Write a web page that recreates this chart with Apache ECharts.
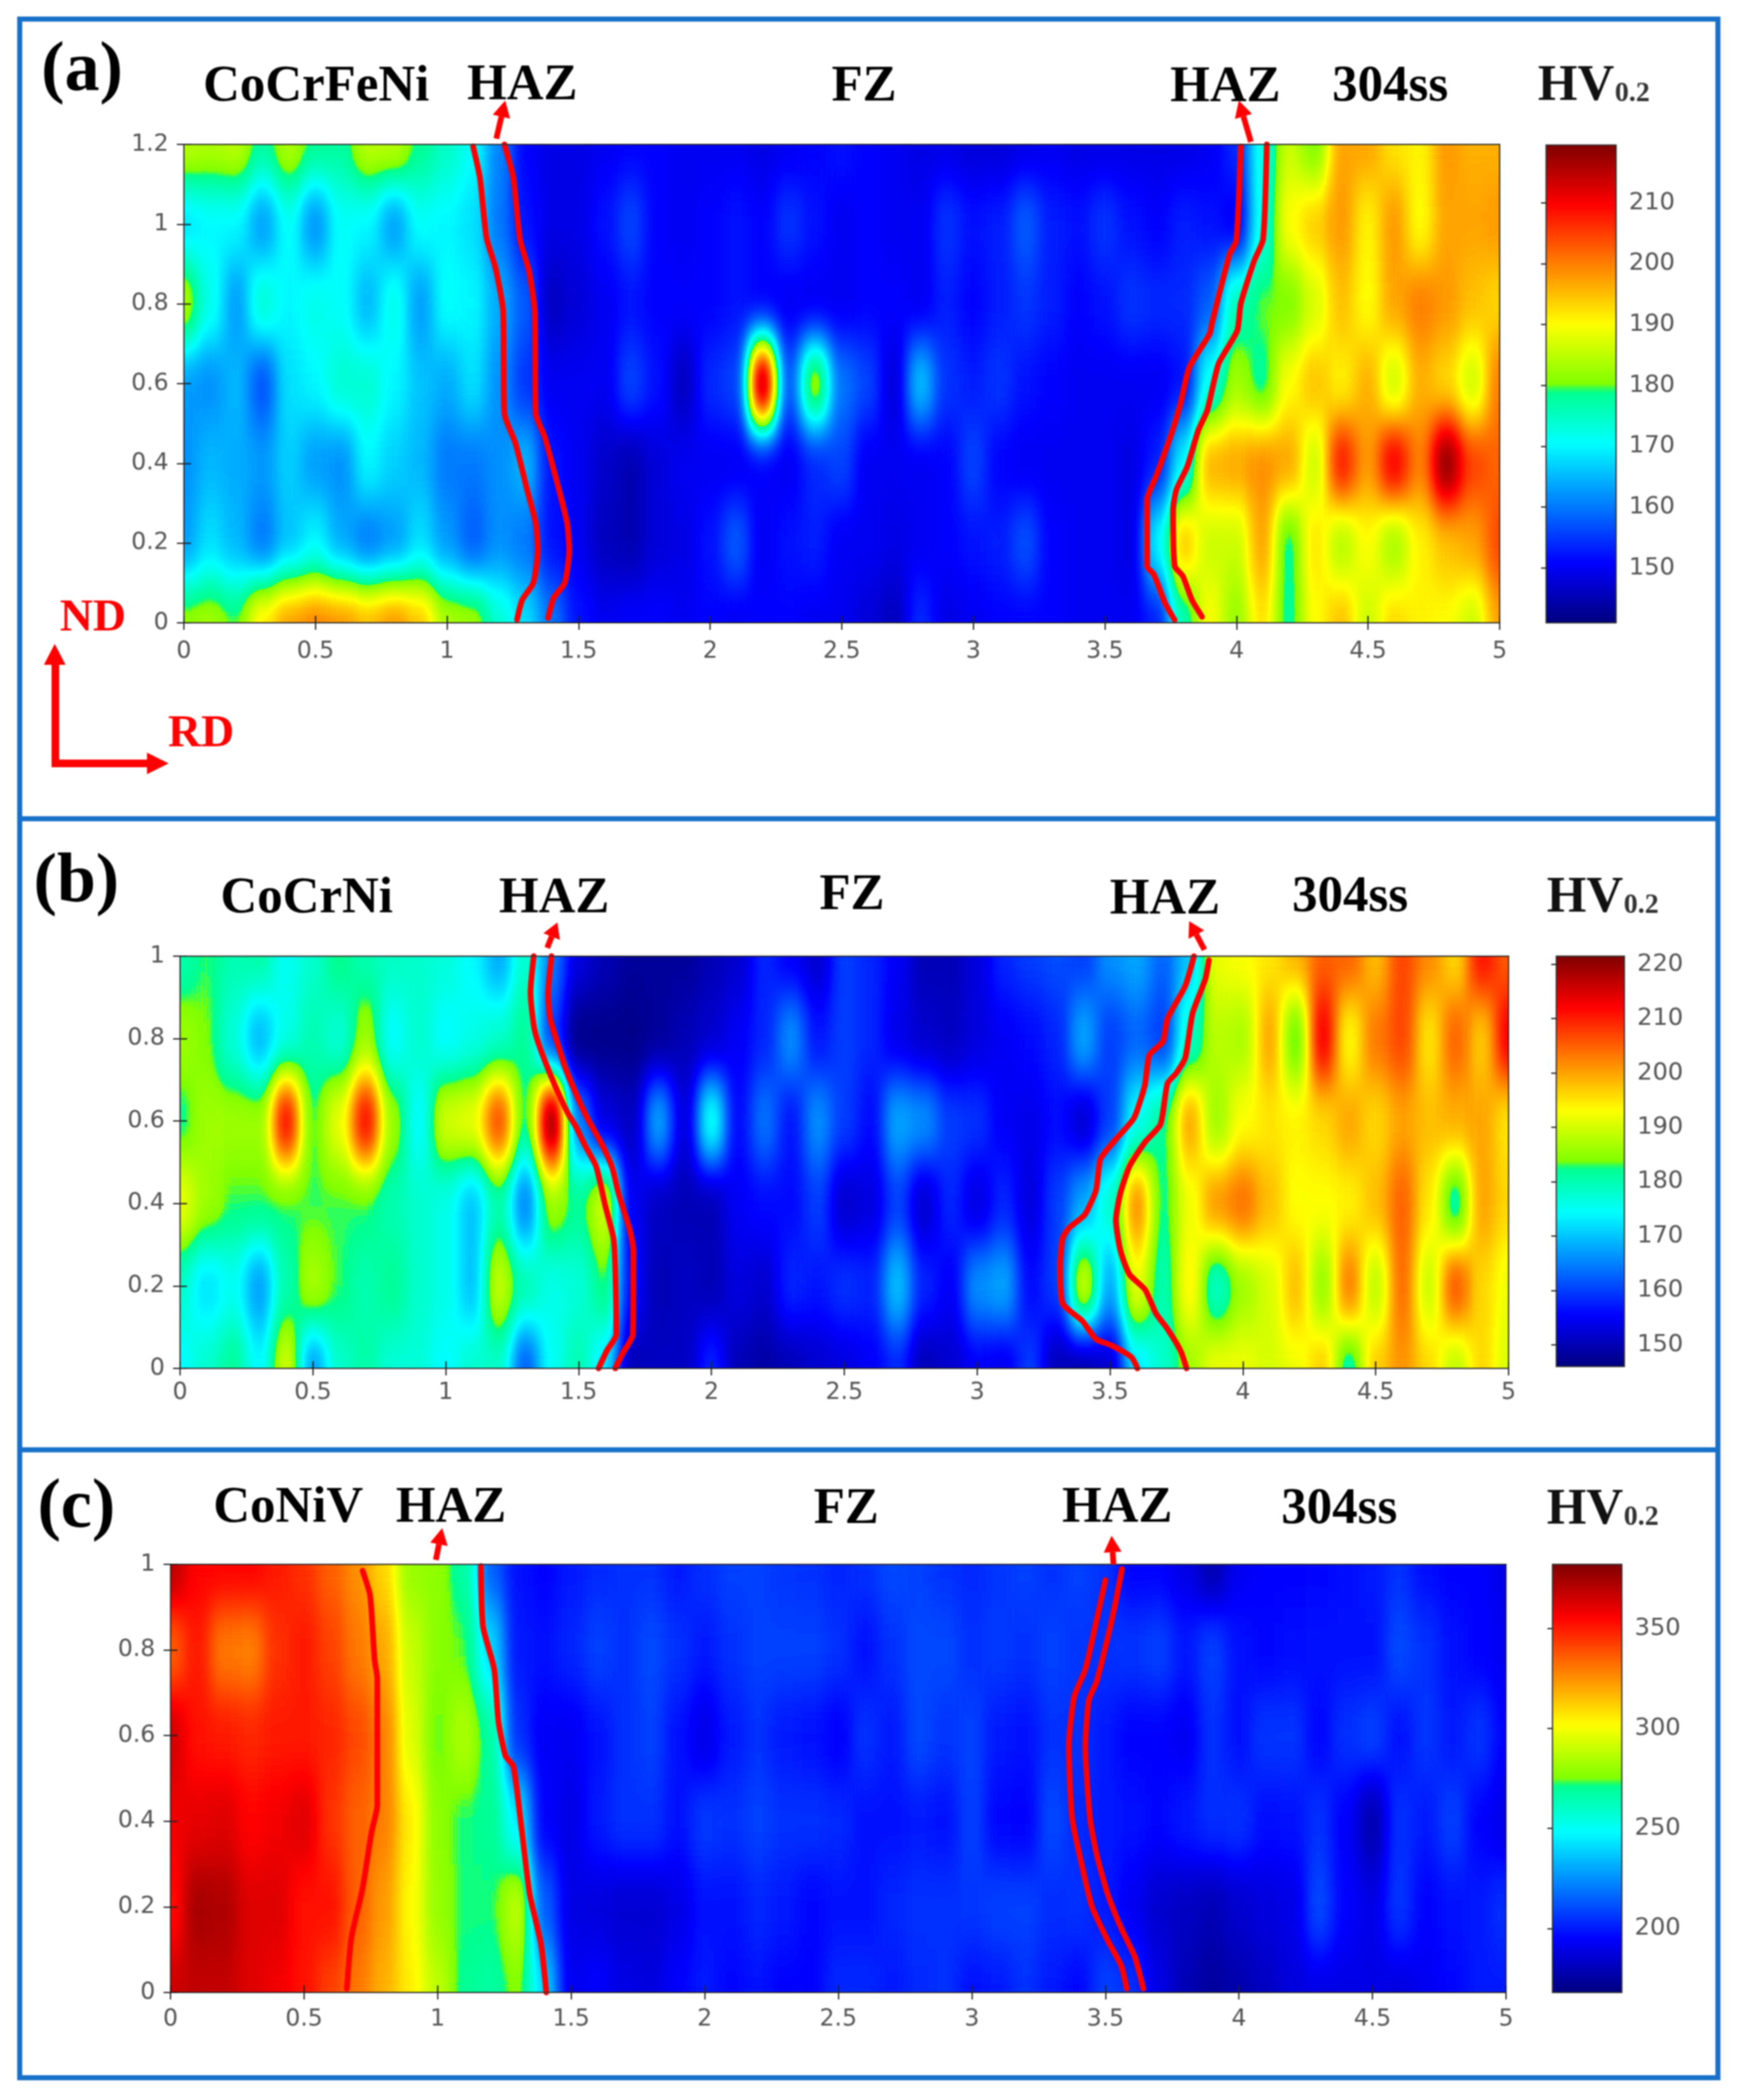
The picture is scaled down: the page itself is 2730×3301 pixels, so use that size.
<!DOCTYPE html>
<html>
<head>
<meta charset="utf-8">
<script src="https://cdn.jsdelivr.net/npm/echarts@6/dist/echarts.min.js"></script>
<style>
html, body { margin: 0; padding: 0; background: #fff; }
#page { position: relative; width: 2730px; height: 3301px; overflow: hidden; }
#main { position: absolute; left: 0; top: 0; width: 2730px; height: 3301px; z-index: 5; filter: blur(0.9px); }
.clip { position: absolute; overflow: hidden; z-index: 1; }
.heat { position: absolute; filter: url(#jetBlur); }
</style>
</head>
<body>
<!-- blur the gray value map, then colour it, so the blending happens on hardness and not on rgb -->
<svg width="0" height="0" style="position:absolute">
  <filter id="jetBlur" color-interpolation-filters="sRGB">
    <feGaussianBlur stdDeviation="11 36"/>
    <feComponentTransfer>
      <feFuncR id="funcR" type="table"/>
      <feFuncG id="funcG" type="table"/>
      <feFuncB id="funcB" type="table"/>
      <feFuncA type="linear" slope="30"/>
    </feComponentTransfer>
  </filter>
</svg>
<div id="page"><div id="main"></div></div>
<script>
var xValues = [];
for (var k = 0; k <= 50; k++) xValues.push((k / 10).toFixed(1));
var yValuesA = ['0', '0.2', '0.4', '0.6', '0.8', '1.0', '1.2'];
var yValuesBC = ['0', '0.2', '0.4', '0.6', '0.8', '1.0'];

// hardness, one row per y, x = 0..5 in steps of 0.1
var hvA_120 = [185,184,185,178,184,179,178,185,185,179,175, 171,161,151,149,149,150,151,151,150,150, 150,149,150,151,152,151,150,149,149,148, 148,149,150,149,149,149,149,149,150,154, 172,186,180,197,197,192,191,198,196,196];
var hvA_100 = [168,170,170,163,171,162,171,170,163,171,170, 168,160,152,149,149,152,156,151,150,151, 152,151,155,152,150,151,150,150,155,152, 153,158,153,152,155,152,151,153,152,150, 172,190,194,198,191,198,190,197,197,198];
var hvA_080 = [184,172,163,174,170,172,171,165,172,163,171, 170,164,158,146,148,150,152,151,151,151, 152,151,150,150,150,151,151,150,153,151, 153,155,153,151,152,155,154,154,158,176, 180,180,187,195,190,197,200,198,195,193];
var hvA_060 = [163,162,165,157,168,170,174,174,170,166,164, 168,162,155,150,150,150,156,152,146,154, 156,218,158,184,160,156,148,166,155,153, 155,152,151,150,150,150,150,152,172,183, 178,190,195,191,196,186,196,193,186,200];
var hvA_040 = [162,165,164,163,167,163,162,170,167,165,160, 160,162,165,152,150,147,145,148,150,150, 150,151,150,154,156,150,150,150,151,156, 151,150,150,150,150,149,153,170,196,197, 199,197,186,208,198,211,200,219,205,202];
var hvA_020 = [163,168,165,160,166,170,164,160,163,168,163, 158,162,160,152,150,146,145,148,149,152, 158,150,152,153,150,150,149,150,151,152, 153,157,151,150,150,149,170,195,186,186, 197,178,192,184,190,183,191,195,197,204];
var hvA_000 = [182,183,180,192,198,200,199,196,199,195,184, 183,174,168,160,152,150,151,151,150,151, 150,151,151,150,150,148,146,154,149,150, 151,151,151,150,150,150,153,176,190,182, 192,178,190,195,186,193,191,190,186,197];

var hvB_100 = [180,183,180,181,175,178,183,180,179,178,177, 174,168,178,165,153,150,148,148,148,150, 152,158,155,152,160,158,155,150,150,153, 158,160,161,160,166,168,163,170,192,193, 195,199,205,205,198,207,202,196,211,205];
var hvB_080 = [186,184,177,169,176,180,177,186,174,178,174, 176,178,182,160,147,147,147,148,150,152, 155,158,166,157,160,158,154,152,151,153, 155,156,158,168,160,163,160,178,188,187, 200,182,213,193,203,207,195,205,197,213];
var hvB_060 = [182,186,186,186,212,183,192,212,186,174,190, 192,207,182,221,165,153,151,168,153,176, 156,164,157,166,160,156,168,166,160,159, 155,154,156,152,160,175,182,200,186,193, 195,194,196,200,196,200,198,199,200,195];
var hvB_040 = [192,186,183,183,183,183,183,183,180,178,176, 170,180,165,186,182,190,155,151,150,150, 155,156,156,160,152,153,160,152,158,153, 158,153,160,168,178,202,182,192,201,204, 198,193,193,194,198,205,195,180,200,196];
var hvB_020 = [178,172,175,167,180,187,183,180,182,178,176, 170,189,180,176,177,183,156,150,151,150, 153,152,158,157,159,158,170,158,155,166, 168,156,160,190,168,192,180,194,178,186, 190,198,185,203,188,204,189,206,196,192];
var hvB_000 = [174,178,182,174,190,167,178,181,177,177,174, 178,178,162,175,180,172,150,151,151,158, 150,149,150,152,153,155,158,150,152,155, 154,160,150,149,152,172,178,186,192,192, 190,192,197,180,197,201,196,188,196,190];

var hvC_100 = [370,355,355,355,350,345,335,325,310,280,278, 268,215,198,195,200,203,205,205,200,205, 208,208,206,205,202,205,210,208,205,203, 206,208,205,208,205,195,195,190,178,192, 195,195,196,197,200,205,197,195,195,190];
var hvC_080 = [335,350,330,328,345,350,342,330,320,290,277, 274,240,200,198,202,208,205,210,205,200, 205,208,208,208,205,198,205,210,210,205, 207,205,208,206,205,206,208,200,208,198, 196,197,198,198,198,210,205,198,195,192];
var hvC_060 = [365,352,350,348,350,350,348,340,328,295,274, 285,268,205,193,192,198,205,208,198,190, 200,205,200,198,194,205,200,210,206,208, 200,198,205,205,200,195,195,192,205,198, 206,206,196,205,208,198,206,200,206,195];
var hvC_040 = [358,360,362,355,358,362,345,335,328,305,278, 272,270,245,195,190,200,205,205,198,207, 205,208,205,205,203,198,198,200,198,208, 196,195,210,203,200,198,196,200,204,205, 197,198,205,194,178,205,200,208,195,190];
var hvC_020 = [352,374,372,362,362,352,352,335,322,302,280, 272,272,288,215,190,188,186,186,190,198, 198,202,200,196,198,198,202,205,205,206, 208,208,204,205,200,192,185,182,180,185, 188,190,210,195,190,206,195,198,200,205];
var hvC_000 = [366,368,368,362,358,352,342,330,318,305,288, 270,268,276,240,192,195,190,188,195,200, 196,198,195,195,203,203,200,203,205,198, 200,205,200,196,208,205,190,180,175,178, 182,188,190,190,190,188,192,196,200,200];

// HAZ boundaries drawn on the maps, [x, y]
var hazA1 = [[1.099,1.195],[1.125,1.116],[1.150,.966],[1.184,.891],[1.213,.783],[1.218,.525],[1.260,.45],[1.303,.337],[1.337,.25],[1.345,.183],[1.328,.10],[1.286,.058],[1.266,.008]];
var hazA2 = [[1.218,1.2],[1.252,1.116],[1.277,.962],[1.311,.883],[1.333,.783],[1.337,.525],[1.371,.466],[1.422,.342],[1.456,.25],[1.464,.183],[1.447,.10],[1.405,.062],[1.384,.012]];
var hazA3 = [[4.016,1.195],[3.999,.958],[3.974,.925],[3.906,.75],[3.898,.725],[3.821,.641],[3.787,.55],[3.753,.475],[3.694,.367],[3.660,.308],[3.660,.142],[3.686,.121],[3.728,.05],[3.765,.007]];
var hazA4 = [[4.115,1.2],[4.101,.962],[4.067,.908],[4.016,.80],[4.003,.733],[3.932,.65],[3.889,.533],[3.855,.483],[3.813,.392],[3.771,.333],[3.759,.283],[3.765,.142],[3.796,.117],[3.830,.058],[3.869,.015]];
var hazB1 = [[1.331,1.0],[1.319,.913],[1.331,.833],[1.343,.80],[1.373,.746],[1.415,.68],[1.457,.622],[1.491,.585],[1.524,.541],[1.566,.49],[1.600,.395],[1.633,.308],[1.642,.082],[1.608,.045],[1.575,0]];
var hazB2 = [[1.398,1],[1.385,.906],[1.393,.848],[1.415,.80],[1.449,.731],[1.491,.665],[1.533,.607],[1.583,.549],[1.625,.49],[1.650,.425],[1.692,.337],[1.706,.286],[1.704,.082],[1.667,.038],[1.638,0]];
var hazB3 = [[3.816,1],[3.783,.928],[3.716,.848],[3.699,.793],[3.648,.76],[3.631,.687],[3.590,.607],[3.522,.556],[3.464,.508],[3.447,.432],[3.405,.373],[3.346,.341],[3.321,.315],[3.312,.25],[3.321,.158],[3.396,.115],[3.447,.071],[3.505,.056],[3.581,.027],[3.603,0]];
var hazB4 = [[3.872,.99],[3.858,.943],[3.811,.862],[3.783,.753],[3.749,.716],[3.716,.691],[3.690,.592],[3.632,.549],[3.573,.49],[3.539,.425],[3.522,.359],[3.539,.286],[3.573,.228],[3.632,.191],[3.673,.133],[3.716,.096],[3.766,.042],[3.788,0]];
var hazC1 = [[.719,.985],[.747,.927],[.764,.776],[.774,.733],[.774,.438],[.752,.373],[.719,.243],[.677,.128],[.660,.009]];
var hazC2 = [[1.162,.996],[1.170,.855],[1.212,.755],[1.228,.632],[1.254,.553],[1.284,.528],[1.312,.395],[1.345,.229],[1.387,.114],[1.407,0]];
var hazC3 = [[3.50,.963],[3.467,.87],[3.425,.755],[3.383,.69],[3.363,.575],[3.375,.409],[3.408,.308],[3.45,.2],[3.509,.121],[3.559,.063],[3.580,.009]];
var hazC4 = [[3.562,.989],[3.529,.884],[3.467,.726],[3.438,.683],[3.425,.575],[3.442,.409],[3.467,.323],[3.509,.229],[3.559,.15],[3.609,.085],[3.642,.009]];

var ticksA = [150, 160, 170, 180, 190, 200, 210];
var ticksB = [150, 160, 170, 180, 190, 200, 210, 220];
var ticksC = [200, 250, 300, 350];

var red = '#ff0000';
var blue = '#1871c8';
var serif = '"Liberation Serif", serif';

// jet as in the figure: the green is saturated, with a jump at the middle of the range
function jetAt(t) {
    var r = t < 0.5 ? 0 : t < 0.625 ? 0.5 + (t - 0.5) * 4 : t < 0.875 ? 1 : 1 - (t - 0.875) * 4;
    var g = t < 0.125 ? 0 : t < 0.375 ? (t - 0.125) * 4 : t < 0.625 ? 1 : t < 0.875 ? 1 - (t - 0.625) * 4 : 0;
    var b = t < 0.125 ? 0.5 + t * 4 : t < 0.375 ? 1 : t < 0.5 ? 1 - (t - 0.375) * 4 : 0;
    return [r, g, b];
}
var jet = [], tableR = [], tableG = [], tableB = [];
for (var s = 0; s <= 64; s++) {
    var c = jetAt(s / 64);
    tableR.push(c[0].toFixed(3));
    tableG.push(c[1].toFixed(3));
    tableB.push(c[2].toFixed(3));
    jet.push('rgb(' + Math.round(c[0] * 255) + ',' + Math.round(c[1] * 255) + ',' + Math.round(c[2] * 255) + ')');
}
document.getElementById('funcR').setAttribute('tableValues', tableR.join(' '));
document.getElementById('funcG').setAttribute('tableValues', tableG.join(' '));
document.getElementById('funcB').setAttribute('tableValues', tableB.join(' '));

var panels = [
    { rows: [hvA_000, hvA_020, hvA_040, hvA_060, hvA_080, hvA_100, hvA_120], ys: yValuesA, yMax: 1.2,
      min: 141, max: 219.5, ticks: ticksA, haz: [hazA1, hazA2, hazA3, hazA4],
      left: 289, top: 227, width: 2068, height: 752, labelGap: 27,
      barLeft: 2430, barTop: 228, barWidth: 110, barHeight: 751 },
    { rows: [hvB_000, hvB_020, hvB_040, hvB_060, hvB_080, hvB_100], ys: yValuesBC, yMax: 1,
      min: 146, max: 221.5, ticks: ticksB, haz: [hazB1, hazB2, hazB3, hazB4],
      left: 283, top: 1503, width: 2088, height: 648, labelGap: 20,
      barLeft: 2446, barTop: 1503, barWidth: 107, barHeight: 645 },
    { rows: [hvC_000, hvC_020, hvC_040, hvC_060, hvC_080, hvC_100], ys: yValuesBC, yMax: 1,
      min: 168, max: 382, ticks: ticksC, haz: [hazC1, hazC2, hazC3, hazC4],
      left: 268, top: 2459, width: 2099, height: 673, labelGap: 24,
      barLeft: 2440, barTop: 2459, barWidth: 109, barHeight: 673 }
];

// heat layers sit under the main chart, cell centres at 0 and 5 land on the frame
panels.forEach(function (p) {
    var cellW = p.width / (xValues.length - 1);
    var cellH = p.height / (p.ys.length - 1);
    var clip = document.createElement('div');
    clip.className = 'clip';
    clip.style.cssText = 'left:' + p.left + 'px;top:' + p.top + 'px;width:' + p.width + 'px;height:' + p.height + 'px';
    var el = document.createElement('div');
    el.className = 'heat';
    el.style.left = (-cellW / 2) + 'px';
    el.style.top = (-cellH / 2) + 'px';
    el.style.width = (p.width + cellW) + 'px';
    el.style.height = (p.height + cellH) + 'px';
    clip.appendChild(el);
    document.getElementById('page').appendChild(clip);

    var data = [];
    p.rows.forEach(function (row, j) {
        row.forEach(function (v, i) {
            data.push([i, j, v]);
        });
    });
    var heat = echarts.init(el, null, { renderer: 'canvas' });
    heat.setOption({
        animation: false,
        grid: { left: 0, right: 0, top: 0, bottom: 0 },
        xAxis: { type: 'category', data: xValues, show: false },
        yAxis: { type: 'category', data: p.ys, show: false },
        visualMap: { show: false, min: p.min, max: p.max, seriesIndex: 0, inRange: { color: ['#000000', '#ffffff'] } },
        series: [{ type: 'heatmap', data: data, progressive: 0, silent: true, itemStyle: { borderWidth: 0 } }]
    });
});

var grids = [], xAxes = [], yAxes = [], series = [], maps = [];
var tickStyle = { color: '#222', width: 2 };
var labelFont = { color: '#555', fontFamily: 'DejaVu Sans', fontSize: 37 };

panels.forEach(function (p) {
    var g = grids.length;
    grids.push({ left: p.left, top: p.top, width: p.width, height: p.height, show: true, z: 10,
        borderColor: '#333', borderWidth: 2, backgroundColor: 'transparent' });
    var xi = xAxes.length, yi = yAxes.length;
    ['bottom', 'top'].forEach(function (pos) {
        xAxes.push({ type: 'value', gridIndex: g, position: pos, min: 0, max: 5, interval: 0.5, z: 10,
            splitLine: { show: false }, axisLine: { show: false },
            axisTick: { show: true, inside: true, length: 11, lineStyle: tickStyle },
            axisLabel: Object.assign({ show: pos === 'bottom', margin: p.labelGap, hideOverlap: false, showMinLabel: true, showMaxLabel: true }, labelFont) });
    });
    ['left', 'right'].forEach(function (pos) {
        yAxes.push({ type: 'value', gridIndex: g, position: pos, min: 0, max: p.yMax, interval: 0.2, z: 10,
            splitLine: { show: false }, axisLine: { show: false },
            axisTick: { show: true, inside: true, length: 11, lineStyle: tickStyle },
            axisLabel: Object.assign({ show: pos === 'left', margin: 24, padding: [10, 0, 0, 0], hideOverlap: false, showMinLabel: true, showMaxLabel: true }, labelFont) });
    });
    p.haz.forEach(function (line) {
        series.push({ type: 'line', xAxisIndex: xi, yAxisIndex: yi, data: line, symbol: 'none', silent: true, clip: false,
            lineStyle: { color: red, width: 9, cap: 'round', join: 'round' }, smooth: 0.2 });
    });

    // colour bar, the frame and ticks come from a small grid on top of it
    var bar = grids.length;
    grids.push({ left: p.barLeft, top: p.barTop, width: p.barWidth, height: p.barHeight, show: true, z: 10,
        borderColor: '#333', borderWidth: 2, backgroundColor: 'transparent' });
    xAxes.push({ type: 'value', gridIndex: bar, show: false, min: 0, max: 1 });
    yAxes.push({ type: 'value', gridIndex: bar, position: 'right', min: p.min, max: p.max, z: 10,
        splitLine: { show: false }, axisLine: { show: false },
        axisTick: { show: true, inside: true, length: 8, lineStyle: tickStyle, customValues: p.ticks },
        axisLabel: Object.assign({ margin: 20, customValues: p.ticks }, labelFont, { fontSize: 38 }) });
    maps.push({ type: 'continuous', show: true, min: p.min, max: p.max, seriesIndex: 99, calculable: false, hoverLink: false,
        left: p.barLeft, top: p.barTop, itemWidth: p.barWidth, itemHeight: p.barHeight, padding: 0, text: null,
        inRange: { color: jet } });
});

function label(str, x, y, size, color) {
    return { type: 'text', z: 20, silent: true, style: { text: str, x: x, y: y, align: 'center', verticalAlign: 'middle',
        font: 'bold ' + size + 'px ' + serif, fill: color || '#000' } };
}
// HV and its subscript share a baseline
function hvLabel(x, y) {
    return [
        { type: 'text', z: 20, silent: true, style: { text: 'HV', x: x, y: y, align: 'left', verticalAlign: 'middle', font: 'bold 80px ' + serif, fill: '#111' } },
        { type: 'text', z: 20, silent: true, style: { text: '0.2', x: x + 121, y: y + 12, align: 'left', verticalAlign: 'middle', font: 'bold 44px ' + serif, fill: '#333' } }
    ];
}
// red pointer with a head at (x2, y2)
function arrow(x1, y1, x2, y2, headLen, headHalf, w) {
    var dx = x2 - x1, dy = y2 - y1, d = Math.sqrt(dx * dx + dy * dy);
    var ux = dx / d, uy = dy / d;
    var bx = x2 - ux * headLen, by = y2 - uy * headLen;
    return [
        { type: 'polyline', z: 20, silent: true, shape: { points: [[x1, y1], [bx, by]] }, style: { stroke: red, lineWidth: w, fill: null } },
        { type: 'polygon', z: 20, silent: true, shape: { points: [[x2, y2], [bx - uy * headHalf, by + ux * headHalf], [bx + uy * headHalf, by - ux * headHalf]] }, style: { fill: red } }
    ];
}

var graphics = [
    { type: 'rect', z: 20, silent: true, shape: { x: 31, y: 30, width: 2669, height: 3236 }, style: { fill: null, stroke: blue, lineWidth: 8 } },
    { type: 'line', z: 20, silent: true, shape: { x1: 31, y1: 1287, x2: 2700, y2: 1287 }, style: { stroke: blue, lineWidth: 8 } },
    { type: 'line', z: 20, silent: true, shape: { x1: 31, y1: 2279, x2: 2700, y2: 2279 }, style: { stroke: blue, lineWidth: 8 } },

    label('(a)', 129, 113, 110), label('CoCrFeNi', 497, 137, 80), label('HAZ', 821, 135, 80),
    label('FZ', 1358, 137, 80), label('HAZ', 1926, 138, 80), label('304ss', 2185, 137, 80),
    label('(b)', 120, 1389, 110), label('CoCrNi', 482, 1413, 80), label('HAZ', 871, 1413, 80),
    label('FZ', 1339, 1408, 80), label('HAZ', 1831, 1415, 80), label('304ss', 2122, 1411, 80),
    label('(c)', 120, 2372, 110), label('CoNiV', 453, 2371, 80), label('HAZ', 709, 2371, 80),
    label('FZ', 1330, 2373, 80), label('HAZ', 1756, 2371, 80), label('304ss', 2105, 2373, 80),

    label('ND', 146, 972, 72, red), label('RD', 316, 1154, 72, red),
    { type: 'polyline', z: 20, silent: true, shape: { points: [[87, 1042], [87, 1200], [234, 1200]] }, style: { stroke: red, lineWidth: 12, fill: null } },
    { type: 'polygon', z: 20, silent: true, shape: { points: [[86, 1012], [69, 1045], [103, 1045]] }, style: { fill: red } },
    { type: 'polygon', z: 20, silent: true, shape: { points: [[265, 1200], [231, 1183], [231, 1217]] }, style: { fill: red } }
]
    .concat(hvLabel(2417, 136))
    .concat(hvLabel(2431, 1412))
    .concat(hvLabel(2431, 2374))
    .concat(arrow(780, 218, 794, 158, 26, 14, 9))
    .concat(arrow(1966, 223, 1947, 158, 26, 14, 9))
    .concat(arrow(860, 1490, 876, 1450, 24, 14, 9))
    .concat(arrow(1893, 1493, 1869, 1448, 24, 14, 9))
    .concat(arrow(685, 2452, 695, 2402, 26, 14, 9))
    .concat(arrow(1750, 2459, 1747, 2414, 26, 14, 9));

var chart = echarts.init(document.getElementById('main'), null, { renderer: 'canvas' });
chart.setOption({
    animation: false,
    backgroundColor: 'transparent',
    grid: grids,
    xAxis: xAxes,
    yAxis: yAxes,
    visualMap: maps,
    series: series,
    graphic: { elements: graphics }
});
</script>
</body>
</html>
